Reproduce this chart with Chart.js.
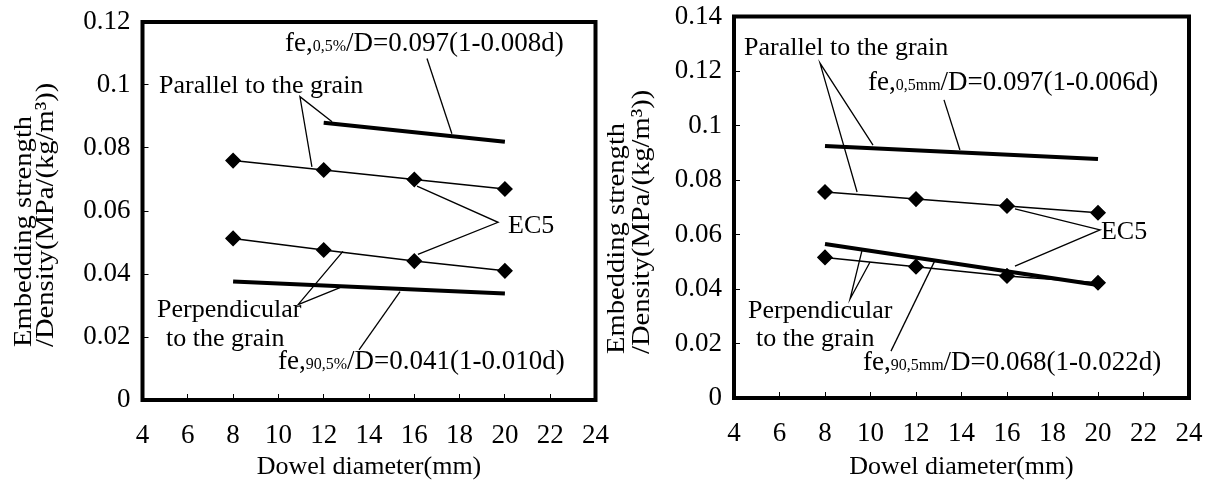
<!DOCTYPE html>
<html>
<head>
<meta charset="utf-8">
<script src="https://cdn.jsdelivr.net/npm/chart.js@4.4.1/dist/chart.umd.min.js"></script>
<style>
  html, body { margin: 0; padding: 0; background: #fff; }
  #wrap { position: relative; width: 1218px; height: 483px; overflow: hidden; }
  #leftBox { position: absolute; left: 0; top: 0; width: 618px; height: 483px; }
  #rightBox { position: absolute; left: 600px; top: 0; width: 618px; height: 483px; }
</style>
</head>
<body>
<div id="wrap">
  <div id="leftBox"><canvas id="leftChart" width="618" height="483"></canvas></div>
  <div id="rightBox"><canvas id="rightChart" width="618" height="483"></canvas></div>
</div>
<script>
const SERIF = "'Liberation Serif', 'Times New Roman', serif";

// dowel diameters (mm)
const diameters = [8, 12, 16, 20];
const xTicks = [4, 6, 8, 10, 12, 14, 16, 18, 20, 22, 24];

// left figure: 5% values
const leftYTicks = [0, 0.02, 0.04, 0.06, 0.08, 0.1, 0.12];
const leftParallelEC5 = [0.076, 0.073, 0.070, 0.067];
const leftPerpEC5 = [0.0513, 0.0476, 0.0441, 0.041];
const leftParallelFitX = [12, 20];
const leftParallelFitY = [0.088, 0.082];
const leftPerpFitX = [8, 20];
const leftPerpFitY = [0.0376, 0.0338];

// right figure: 5mm values
const rightYTicks = [0, 0.02, 0.04, 0.06, 0.08, 0.1, 0.12, 0.14];
const rightParallelEC5 = [0.0756, 0.073, 0.0705, 0.068];
const rightPerpEC5 = [0.0516, 0.0482, 0.0448, 0.0423];
const rightParallelFitX = [8, 20];
const rightParallelFitY = [0.0925, 0.0877];
const rightPerpFitX = [8, 20];
const rightPerpFitY = [0.0565, 0.0415];

const yTitle = ['Embedding strength', '/Density(MPa/(kg/m\u00B3))'];
const xTitle = 'Dowel diameter(mm)';

function pts(xs, ys) {
  return xs.map((x, i) => ({ x: x, y: ys[i] }));
}

// frame, leader lines, in-plot labels and the rotated y title
const figurePlugin = {
  id: 'figure',
  afterDraw(chart, args, opts) {
    const { ctx, chartArea: a } = chart;
    const sx = chart.scales.x, sy = chart.scales.y;
    const px = v => sx.getPixelForValue(v);
    const py = v => sy.getPixelForValue(v);
    ctx.save();
    ctx.strokeStyle = '#000';
    ctx.fillStyle = '#000';

    ctx.lineWidth = 4;
    ctx.strokeRect(a.left, a.top, a.right - a.left, a.bottom - a.top);

    ctx.lineWidth = 1.3;
    for (const seg of opts.leaders) {
      ctx.beginPath();
      seg.forEach((p, i) => {
        if (i === 0) ctx.moveTo(px(p[0]), py(p[1]));
        else ctx.lineTo(px(p[0]), py(p[1]));
      });
      ctx.stroke();
    }

    ctx.textAlign = 'left';
    ctx.textBaseline = 'alphabetic';
    for (const lab of opts.labels) {
      let x = px(lab.x);
      const y = py(lab.y) + 0.34 * lab.parts[0][1];
      for (const [text, size] of lab.parts) {
        ctx.font = size + 'px ' + SERIF;
        ctx.fillText(text, x, y);
        x += ctx.measureText(text).width;
      }
    }

    // the scan is a bit taller than wide, so the upright title runs longer
    ctx.font = opts.titleSize + 'px ' + SERIF;
    ctx.textBaseline = 'middle';
    yTitle.forEach((line, i) => {
      ctx.save();
      ctx.translate(a.left - opts.titleOffsets[i], a.bottom - opts.titleLift);
      ctx.rotate(-Math.PI / 2);
      ctx.scale(1.1, 1);
      ctx.fillText(line, 0, 0);
      ctx.restore();
    });
    ctx.restore();
  }
};

function makeChart(id, cfg) {
  const tickFont = { family: SERIF, size: 27, lineHeight: 1.0 };
  new Chart(document.getElementById(id), {
    type: 'scatter',
    data: {
      datasets: [
        { data: pts(diameters, cfg.parEC5), showLine: true, borderColor: '#000', borderWidth: 1.5,
          pointStyle: 'rectRot', pointRadius: 7, pointBackgroundColor: '#000', pointBorderColor: '#000' },
        { data: pts(diameters, cfg.perpEC5), showLine: true, borderColor: '#000', borderWidth: 1.5,
          pointStyle: 'rectRot', pointRadius: 7, pointBackgroundColor: '#000', pointBorderColor: '#000' },
        { data: pts(cfg.parFitX, cfg.parFitY), showLine: true, borderColor: '#000', borderWidth: 4, pointRadius: 0 },
        { data: pts(cfg.perpFitX, cfg.perpFitY), showLine: true, borderColor: '#000', borderWidth: 4, pointRadius: 0 }
      ]
    },
    options: {
      responsive: false,
      animation: false,
      events: [],
      layout: { padding: { left: 0, top: cfg.top, right: cfg.right, bottom: 0 } },
      scales: {
        x: {
          type: 'linear', min: 4, max: 24,
          afterBuildTicks: s => { s.ticks = xTicks.map(v => ({ value: v })); },
          // fixed plot box: drop the label overflow padding chart.js adds
          afterFit: s => { s.height = cfg.xHeight; s.paddingLeft = 0; s.paddingRight = 0; },
          grid: { drawOnChartArea: false, drawTicks: true, tickLength: -6, color: '#000', lineWidth: 1 },
          border: { display: false },
          ticks: { color: '#000', font: tickFont, padding: 28, maxRotation: 0, callback: v => String(v) },
          title: { display: true, text: xTitle, color: '#000',
                   font: { family: SERIF, size: 26, lineHeight: 1.2 }, padding: { top: 0, bottom: 0 } }
        },
        y: {
          type: 'linear', min: 0, max: cfg.yMax,
          afterBuildTicks: s => { s.ticks = cfg.yTicks.map(v => ({ value: v })); },
          afterFit: s => { s.width = cfg.yWidth; s.paddingTop = 0; s.paddingBottom = 0; },
          grid: { drawOnChartArea: false, drawTicks: true, tickLength: -6, color: '#000', lineWidth: 1 },
          border: { display: false },
          ticks: { color: '#000', font: tickFont, padding: 18, callback: v => String(v) }
        }
      },
      plugins: {
        legend: { display: false },
        tooltip: { enabled: false },
        figure: cfg.notes
      }
    },
    plugins: [figurePlugin]
  });
}

makeChart('leftChart', {
  parEC5: leftParallelEC5, perpEC5: leftPerpEC5,
  parFitX: leftParallelFitX, parFitY: leftParallelFitY,
  perpFitX: leftPerpFitX, perpFitY: leftPerpFitY,
  yTicks: leftYTicks, yMax: 0.12,
  top: 22, right: 22.5, yWidth: 142.5, xHeight: 83,
  notes: {
    titleSize: 26, titleOffsets: [118, 96], titleLift: 53,
    labels: [
      { x: 4.73, y: 0.1004, parts: [['Parallel to the grain', 26]] },
      { x: 10.29, y: 0.1138, parts: [['fe,', 27], ['0,5%', 16], ['/D=0.097(1-0.008d)', 27]] },
      { x: 20.14, y: 0.0558, parts: [['EC5', 26]] },
      { x: 4.64, y: 0.0293, parts: [['Perpendicular', 26]] },
      { x: 5.04, y: 0.0198, parts: [['to the grain', 26]] },
      { x: 9.98, y: 0.0128, parts: [['fe,', 27], ['90,5%', 16], ['/D=0.041(1-0.010d)', 27]] }
    ],
    leaders: [
      [[12.37, 0.0883], [10.95, 0.0963], [11.48, 0.0740]],
      [[16.56, 0.1084], [17.66, 0.0845]],
      [[16.12, 0.0679], [19.70, 0.0564], [16.16, 0.0462]],
      [[12.85, 0.0472], [10.87, 0.0303], [12.72, 0.0357]],
      [[13.56, 0.0159], [15.37, 0.0344]]
    ]
  }
});

makeChart('rightChart', {
  parEC5: rightParallelEC5, perpEC5: rightPerpEC5,
  parFitX: rightParallelFitX, parFitY: rightParallelFitY,
  perpFitX: rightPerpFitX, perpFitY: rightPerpFitY,
  yTicks: rightYTicks, yMax: 0.14,
  top: 16.5, right: 29, yWidth: 134, xHeight: 85,
  notes: {
    titleSize: 26, titleOffsets: [117, 92], titleLift: 44,
    labels: [
      { x: 4.44, y: 0.1292, parts: [['Parallel to the grain', 26]] },
      { x: 9.89, y: 0.1163, parts: [['fe,', 27], ['0,5mm', 16], ['/D=0.097(1-0.006d)', 27]] },
      { x: 20.13, y: 0.0617, parts: [['EC5', 26]] },
      { x: 4.62, y: 0.0327, parts: [['Perpendicular', 26]] },
      { x: 4.97, y: 0.0222, parts: [['to the grain', 26]] },
      { x: 9.67, y: 0.0136, parts: [['fe,', 27], ['90,5mm', 16], ['/D=0.068(1-0.022d)', 27]] }
    ],
    leaders: [
      [[10.11, 0.0928], [7.78, 0.1229], [9.41, 0.0756]],
      [[13.23, 0.1094], [13.93, 0.0910]],
      [[16.35, 0.0694], [20.09, 0.0617], [16.35, 0.0484]],
      [[9.63, 0.0543], [9.10, 0.0363], [9.98, 0.0499]],
      [[10.90, 0.0172], [12.84, 0.0506]]
    ]
  }
});
</script>
</body>
</html>
